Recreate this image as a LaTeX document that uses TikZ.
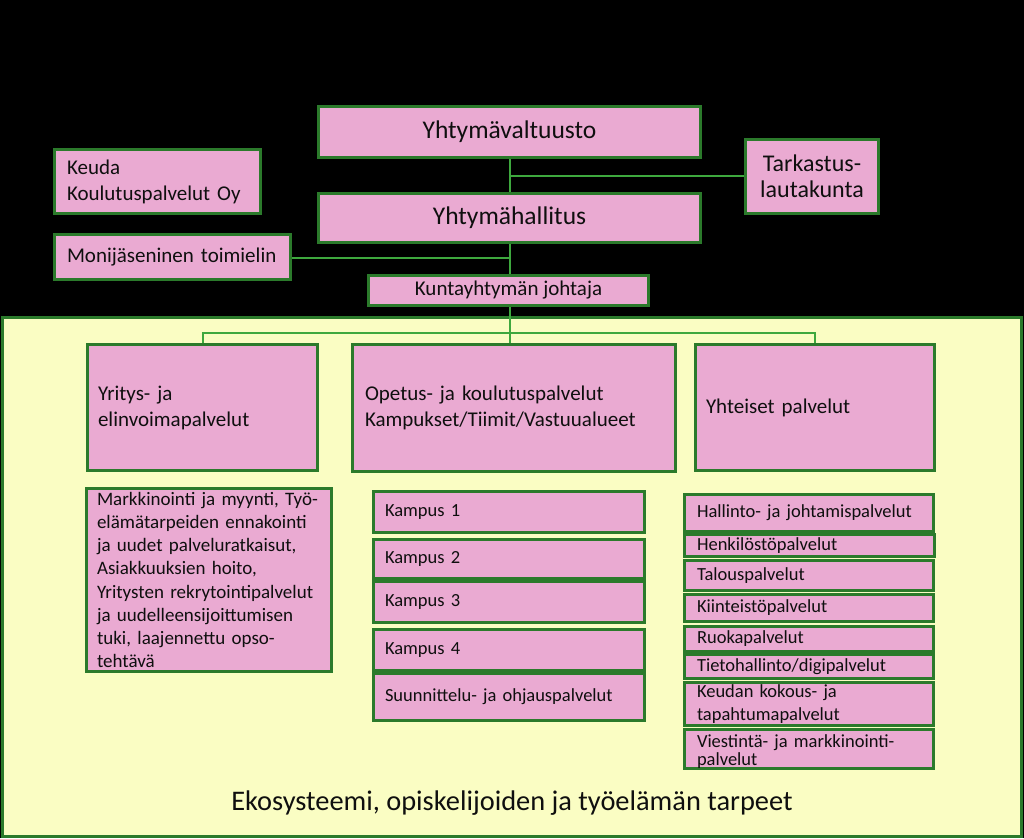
\documentclass[tikz,border=0pt]{standalone}
\usepackage{fontspec}
\setmainfont{Carlito}
\definecolor{pinkc}{RGB}{234,170,210}
\definecolor{dgreen}{RGB}{43,122,43}
\definecolor{lgreen}{RGB}{62,168,62}
\definecolor{yel}{RGB}{250,253,195}
\definecolor{txt}{RGB}{15,15,15}
\newcommand{\fBig}{\fontsize{25.5}{30}\selectfont}
\newcommand{\fMid}{\fontsize{21}{26}\selectfont}
\newcommand{\fSm}{\fontsize{19}{23.2}\selectfont}
\newcommand{\fXs}{\fontsize{18.5}{23}\selectfont}
\begin{document}
\begin{tikzpicture}[x=1pt,y=-1pt,
  bx/.style={draw=dgreen, line width=3pt, fill=pinkc, inner sep=0pt, text=txt},
  cbx/.style={bx, align=center},
  lbx/.style={bx, align=left},
  conn/.style={draw=lgreen, line width=2pt}
]
\useasboundingbox (0,0) rectangle (1024,838);
\fill[black] (0,0) rectangle (1024,838);
% yellow area
\draw[draw=dgreen, line width=3pt, fill=yel] (2.5,317.5) rectangle (1021.5,836.5);

% top level
\node[cbx, minimum width=382, minimum height=51, font=\fBig] (valt) at (509.5,132) {Yhtymävaltuusto};
\node[cbx, minimum width=382, minimum height=49, font=\fBig] (hall) at (509.5,218) {Yhtymähallitus};
\node[lbx, minimum height=64, text width=181, inner xsep=12.5, font=\fMid] (keuda) at (157.5,181.5) {Keuda\\Koulutuspalvelut Oy};
\node[lbx, minimum height=45, text width=211, inner xsep=12.5, font=\fMid] (moni) at (172.5,257) {Monijäseninen toimielin};
\node[cbx, minimum width=280, minimum height=30, font=\fontsize{21}{24}\selectfont] (joht) at (508.5,290.5) {Kuntayhtymän johtaja};
\node[cbx, minimum width=133, minimum height=74, font=\fontsize{24}{26}\selectfont] (tark) at (812,176.5) {Tarkastus-\\lautakunta};

% connectors top
\coordinate (tj) at (509.5,176);
\coordinate (mj) at (509.5,258);
\coordinate (br) at (509.5,333);
\draw[conn] (valt.south) -- (hall.north);
\draw[conn] (tj) -- (tark.west |- tj);
\draw[conn] (hall.south) -- (joht.north -| hall.south);
\draw[conn] (moni.east |- mj) -- (mj);

% second level
\node[lbx, minimum height=126, text width=209, inner xsep=10.5, font=\fMid] (yrit) at (202.5,407.5) {Yritys- ja\\elinvoimapalvelut};
\node[lbx, minimum height=127, text width=298, inner xsep=12.5, font=\fMid] (opet) at (514,408) {Opetus- ja koulutuspalvelut\\Kampukset/Tiimit/Vastuualueet};
\node[lbx, minimum height=126, text width=218, inner xsep=10.5, font=\fMid] (yht) at (815,407.5) {Yhteiset palvelut};

\draw[conn] (joht.south -| br) -- (br |- opet.north);
\draw[conn] (br) -| (yrit.north);
\draw[conn] (br) -| (yht.north);

% left list
\node[lbx, minimum height=183, text width=224, inner xsep=10.5, font=\fSm] (markk) at (209,580) {Markkinointi ja myynti, Työ-\\elämätarpeiden ennakointi\\ja uudet palveluratkaisut,\\Asiakkuuksien hoito,\\Yritysten rekrytointipalvelut\\ja uudelleensijoittumisen\\tuki, laajennettu opso-\\tehtävä};

% middle column
\node[lbx, minimum height=41, text width=248, inner xsep=11.5, font=\fXs] (k1) at (509,512) {Kampus 1};
\node[lbx, minimum height=39, text width=248, inner xsep=11.5, font=\fXs] (k2) at (509,559) {Kampus 2};
\node[lbx, minimum height=41, text width=248, inner xsep=11.5, font=\fXs] (k3) at (509,602) {Kampus 3};
\node[lbx, minimum height=41, text width=248, inner xsep=11.5, font=\fXs] (k4) at (509,650) {Kampus 4};
\node[lbx, minimum height=47, text width=248, inner xsep=11.5, font=\fXs] (suun) at (509,697) {Suunnittelu- ja ohjauspalvelut};

% right column
\node[lbx, minimum height=37, text width=224, inner xsep=12.5, font=\fXs] (r1) at (809,513) {Hallinto- ja johtamispalvelut};
\node[lbx, minimum height=22, text width=225, inner xsep=12.5, font=\fXs] (r2) at (809.5,545.5) {Henkilöstöpalvelut};
\node[lbx, minimum height=30, text width=224, inner xsep=12.5, font=\fXs] (r3) at (809,575.5) {Talouspalvelut};
\node[lbx, minimum height=27, text width=224, inner xsep=12.5, font=\fXs] (r4) at (809,608) {Kiinteistöpalvelut};
\node[lbx, minimum height=25, text width=224, inner xsep=12.5, font=\fXs] (r5) at (809,639) {Ruokapalvelut};
\node[lbx, minimum height=24, text width=224, inner xsep=12.5, font=\fXs] (r6) at (809,666.5) {Tietohallinto/digipalvelut};
\node[lbx, minimum height=43, text width=224, inner xsep=12.5, font=\fXs] (r7) at (809,704) {Keudan kokous- ja\\tapahtumapalvelut};
\node[lbx, minimum height=39, text width=224, inner xsep=12.5, font=\fontsize{18.5}{18}\selectfont, text depth=0pt] (r8) at (809,749) {\raisebox{-3pt}{\parbox[b]{224pt}{\raggedright Viestintä- ja markkinointi-\\palvelut}}};

% bottom text
\node[text=txt, font=\fontsize{28.4}{32}\selectfont, inner sep=0pt] (eko) at (512,803) {Ekosysteemi, opiskelijoiden ja työelämän tarpeet};
\end{tikzpicture}
\end{document}
